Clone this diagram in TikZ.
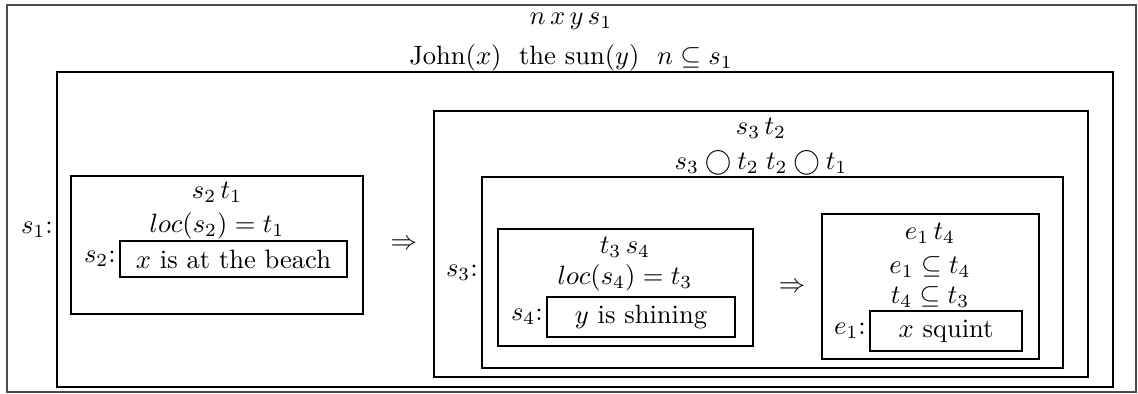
\documentclass[tikz,border=0pt]{standalone}
\usepackage{amsmath,amssymb}
\usetikzlibrary{positioning,fit}
\tikzset{
  cutie/.style    = {draw, thick, inner sep=0pt},
  cadru/.style    = {draw=black!70, semithick, inner sep=0pt},
  eticheta/.style = {inner sep=1pt},
  rand/.style     = {inner sep=1pt}
}
\begin{document}
\begin{tikzpicture}[x=0.377pt, y=-0.377pt]
  \useasboundingbox (0,0) rectangle (1138,394);
  % cadrul exterior
  \node[cadru, fit={(7,5)(1136,392)}] (tot) {};
  \node[rand] (h1) at (571,21) {$n\,x\,y\,s_1$};
  \node[rand] (h2) at (571,58) {John($x$)\ \ the sun($y$)\ \ $n \subseteq s_1$};

  \node[cutie, fit={(57,72)(1113,387)}] (s1) {};
  \node[eticheta, left=0pt of s1] (ls1) {$s_1$:};

  % partea stanga
  \node[cutie, fit={(71,176)(363,314)}] (st) {};
  \node[rand] (st1) at (217,192) {$s_2\,t_1$};
  \node[rand] (st2) at (217,226) {$loc(s_2) = t_1$};
  \node[cutie, fit={(120,241)(347,277)}] (s2) {};
  \node[rand] (s2t) at (s2) {$x$ is at the beach};
  \node[eticheta, left=0pt of s2] (ls2) {$s_2$:};

  \node[rand] (imp1) at (404,245) {$\Rightarrow$};

  % partea dreapta
  \node[cutie, fit={(434,111)(1088,377)}] (dr) {};
  \node[rand] (dr1) at (761,128) {$s_3\,t_2$};
  \node[rand] (dr2) at (761,163) {$s_3 \bigcirc t_2\; t_2 \bigcirc t_1$};
  \node[cutie, fit={(482,177)(1063,368)}] (s3) {};
  \node[eticheta, left=0pt of s3] (ls3) {$s_3$:};

  \node[cutie, fit={(498,229)(753,346)}] (ts) {};
  \node[rand] (ts1) at (625,247) {$t_3\,s_4$};
  \node[rand] (ts2) at (625,278) {$loc(s_4) = t_3$};
  \node[cutie, fit={(547,297)(735,337)}] (s4) {};
  \node[rand] (s4t) at (s4) {$y$ is shining};
  \node[eticheta, left=0pt of s4] (ls4) {$s_4$:};

  \node[rand] (imp2) at (792,288) {$\Rightarrow$};

  \node[cutie, fit={(822,214)(1039,359)}] (et) {};
  \node[rand] (et1) at (930,233) {$e_1\,t_4$};
  \node[rand, inner sep=0pt] (et2) at (930,267) {$e_1 \subseteq t_4$};
  \node[rand, inner sep=0pt] (et3) at (930,297) {$t_4 \subseteq t_3$};
  \node[cutie, fit={(870,311)(1022,351)}] (e1) {};
  \node[rand] (e1t) at (e1) {$x$ squint};
  \node[eticheta, left=0pt of e1] (le1) {$e_1$:};
\end{tikzpicture}
\end{document}
